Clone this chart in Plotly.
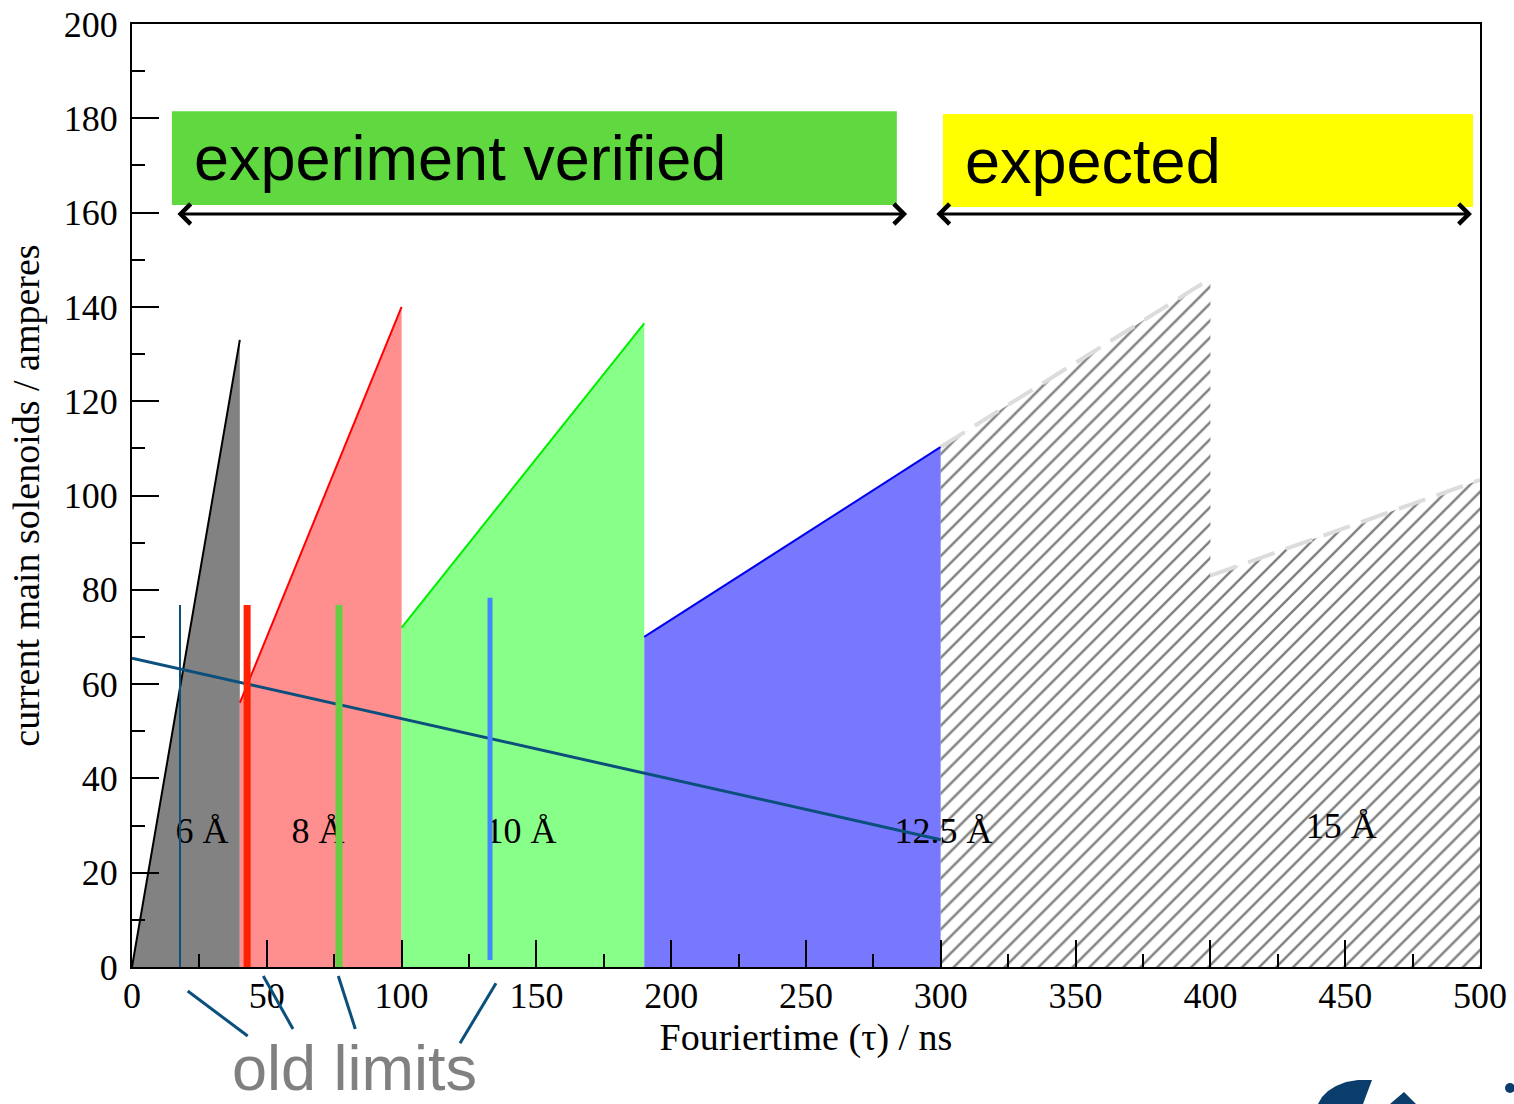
import plotly.graph_objects as go

# ---------------- data ----------------
# top edges of the resolution regions (x: Fourier time / ns, y: current / A)
x_6A, y_6A = [0, 40], [0, 133]
x_8A, y_8A = [40, 100], [56, 140]
x_10A, y_10A = [100, 190], [72, 136.5]
x_125A, y_125A = [190, 300], [70, 110.3]
x_exp, y_exp = [300, 400, 400, 500], [110.3, 146, 83, 103.3]

# old limit curve
x_old, y_old = [0, 300], [65.5, 27]

# old limit markers (vertical bars)
bar_x = [17.8, 42.7, 76.8, 132.8]
bar_y0 = [0, 0, 0, 1.5]
bar_y1 = [76.8, 76.8, 76.8, 78.3]
bar_colors = ["#0b4f7c", "#ff2200", "#66cc44", "#4488ff"]
bar_widths = [2, 7, 7, 5]

# region labels
label_text = ["6 Å", "8 Å", "10 Å", "12.5 Å", "15 Å"]
label_x = [26, 69, 144.3, 301, 448.5]
label_y = [28.2, 28.2, 28.2, 28.2, 29.2]

x_ticks = [0, 50, 100, 150, 200, 250, 300, 350, 400, 450, 500]
y_ticks = [0, 20, 40, 60, 80, 100, 120, 140, 160, 180, 200]

SERIF = "Liberation Serif, Times New Roman, serif"
SANS = "Liberation Sans, Arial, sans-serif"

fig = go.Figure()


def region(xs, ys, fillcolor, edgecolor):
    px = list(xs) + [xs[-1], xs[0]]
    py = list(ys) + [0, 0]
    fig.add_trace(go.Scatter(x=px, y=py, fill="toself", fillcolor=fillcolor,
                             mode="lines", line=dict(width=0), hoverinfo="skip"))
    fig.add_trace(go.Scatter(x=xs, y=ys, mode="lines",
                             line=dict(color=edgecolor, width=2), hoverinfo="skip"))


region(x_6A, y_6A, "#828282", "black")
region(x_8A, y_8A, "#ff8f8f", "#ff0000")
region(x_10A, y_10A, "#88ff88", "#00ee00")
region(x_125A, y_125A, "#7878ff", "#0000ee")

# hatched expected region
hx = list(x_exp) + [x_exp[-1], x_exp[0]]
hy = list(y_exp) + [0, 0]
fig.add_trace(go.Scatter(
    x=hx, y=hy, fill="toself", mode="lines", line=dict(width=0),
    fillcolor="white",
    fillpattern=dict(shape="/", fgcolor="#000000", bgcolor="white",
                     size=12, solidity=0.2),
    hoverinfo="skip"))
# dashed grey top edges
dx = x_exp[:2] + [None] + x_exp[2:]
dy = y_exp[:2] + [None] + y_exp[2:]
fig.add_trace(go.Scatter(x=dx, y=dy, mode="lines",
                         line=dict(color="#dcdcdc", width=4, dash="28px,12px"),
                         hoverinfo="skip"))

# region labels (below the lines)
fig.add_trace(go.Scatter(x=label_x, y=label_y, mode="text", text=label_text,
                         textposition="middle center",
                         textfont=dict(family=SERIF, size=36, color="black"),
                         hoverinfo="skip"))

# old limit curve
fig.add_trace(go.Scatter(x=x_old, y=y_old, mode="lines",
                         line=dict(color="#0b4f7c", width=3), hoverinfo="skip"))

# vertical bars
for bx, b0, b1, c, w in zip(bar_x, bar_y0, bar_y1, bar_colors, bar_widths):
    fig.add_trace(go.Scatter(x=[bx, bx], y=[b0, b1], mode="lines",
                             line=dict(color=c, width=w), hoverinfo="skip"))

# ---------------- boxes / arrows ----------------
shapes = [
    dict(type="rect", xref="x", yref="y", x0=14.8, x1=283.7, y0=161.6, y1=181.5,
         fillcolor="#5fd93f", line=dict(width=0), layer="below"),
    dict(type="rect", xref="x", yref="y", x0=300.8, x1=497.4, y0=161.2, y1=180.9,
         fillcolor="#ffff00", line=dict(width=0), layer="below"),
]

# leader lines to "old limits" (pixel -> paper)
def P(px, py):
    return (px - 132) / 1348.0, (967 - py) / 943.0

leaders = [((187.7, 991), (247.7, 1036)), ((263.3, 976), (293, 1029)),
           ((338.3, 976), (355.3, 1029)), ((496, 983.3), (460, 1043.3))]
for (a, b) in leaders:
    x0, y0 = P(*a)
    x1, y1 = P(*b)
    shapes.append(dict(type="line", xref="paper", yref="paper", x0=x0, y0=y0,
                       x1=x1, y1=y1, line=dict(color="#0b4f7c", width=3)))

# logo fragment (bottom right)
def path(pts, close=True):
    s = ""
    for i, (px, py) in enumerate(pts):
        x, y = P(px, py)
        s += ("M" if i == 0 else "L") + f"{x:.5f},{y:.5f} "
    return s + ("Z" if close else "")

logo_col = "#0a3d6b"
arc_pts = [(1318, 1104), (1322, 1097), (1328, 1091), (1336, 1086), (1346, 1082),
           (1358, 1080), (1372, 1080), (1363, 1104)]
shapes.append(dict(type="path", xref="paper", yref="paper", path=path(arc_pts),
                   fillcolor=logo_col, line=dict(width=0)))
shapes.append(dict(type="path", xref="paper", yref="paper",
                   path=path([(1404, 1092), (1390, 1104), (1416, 1104)]),
                   fillcolor=logo_col, line=dict(width=0)))
cx0, cy0 = P(1505, 1083)
cx1, cy1 = P(1515, 1093)
shapes.append(dict(type="circle", xref="paper", yref="paper", x0=cx0, y0=cy1,
                   x1=cx1, y1=cy0, fillcolor=logo_col, line=dict(width=0)))

annotations = [
    dict(x=22.3, y=171.5, xref="x", yref="y", text="experiment verified",
         showarrow=False, xanchor="left", yanchor="middle",
         font=dict(family=SANS, size=63, color="black")),
    dict(x=308.2, y=171.0, xref="x", yref="y", text="expected",
         showarrow=False, xanchor="left", yanchor="middle",
         font=dict(family=SANS, size=63, color="black")),
    dict(x=P(230, 0)[0], y=P(0, 1068)[1], xref="paper", yref="paper",
         text="old limits", showarrow=False, xanchor="left", yanchor="middle",
         font=dict(family=SANS, size=63, color="#808080")),
]
for (xa, xb) in [(16.3, 287.5), (297.8, 497.0)]:
    annotations.append(dict(x=xb, y=159.7, ax=xa, ay=159.7, xref="x", yref="y",
                            axref="x", ayref="y", text="", showarrow=True,
                            arrowhead=4, startarrowhead=4, arrowside="end+start",
                            arrowsize=1.3, startarrowsize=1.3, arrowwidth=3,
                            arrowcolor="black", standoff=0, startstandoff=0))

axis_common = dict(showline=True, linewidth=2, linecolor="black", mirror=True,
                   showgrid=False, zeroline=False, ticks="inside", ticklen=27,
                   tickwidth=2, tickcolor="black",
                   tickfont=dict(family=SERIF, size=36, color="black"))

fig.update_layout(
    width=1514, height=1104,
    margin=dict(l=132, r=34, t=24, b=137, autoexpand=False),
    paper_bgcolor="white", plot_bgcolor="white",
    showlegend=False,
    shapes=shapes, annotations=annotations,
    xaxis=dict(range=[0, 500], tickvals=x_ticks, ticklabelstandoff=-4,
               minor=dict(ticks="inside", ticklen=13, tickwidth=2, dtick=25,
                          tickcolor="black", showgrid=False),
               title=dict(text="Fouriertime (τ) / ns", standoff=4,
                          font=dict(family=SERIF, size=38, color="black")),
               **axis_common),
    yaxis=dict(range=[0, 200], tickvals=y_ticks, ticklabelstandoff=5,
               minor=dict(ticks="inside", ticklen=13, tickwidth=2, dtick=10,
                          tickcolor="black", showgrid=False),
               title=dict(text="current main solenoids / amperes", standoff=12,
                          font=dict(family=SERIF, size=38, color="black")),
               **axis_common),
)

fig.write_html("out.html")
